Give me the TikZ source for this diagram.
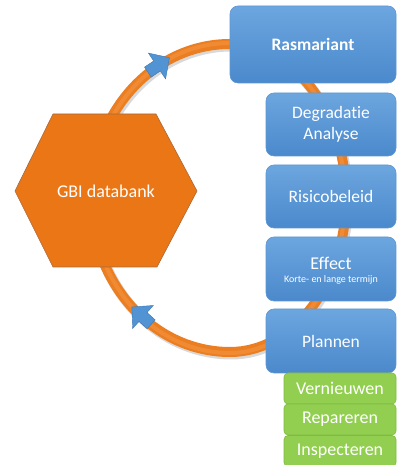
\documentclass[tikz,border=0pt]{standalone}
\usepackage{fontspec}
\setmainfont{Carlito}[Ligatures=NoCommon]
\definecolor{ringorange}{HTML}{EC7E22}
\definecolor{ringlight}{HTML}{F59A48}
\definecolor{hexorange}{HTML}{EA7615}
\definecolor{hexedge}{HTML}{A56A3E}
\definecolor{blueTop}{HTML}{6DA6DF}
\definecolor{blueBot}{HTML}{4A89CC}
\definecolor{blueEdge}{HTML}{5E97D3}
\definecolor{arrowblue}{HTML}{5193D3}
\definecolor{arrowedge}{HTML}{3F78B5}
\definecolor{greenFill}{HTML}{92CF50}
\definecolor{greenEdge}{HTML}{7EBB3F}
\tikzset{
  bluebox/.style={rounded corners=8pt, top color=blueTop, bottom color=blueBot,
    draw=blueEdge, line width=0.6pt, text=white, align=center, inner sep=0pt,
    font=\fontsize{17.5}{21}\selectfont},
  greenbox/.style={rounded corners=4pt, fill=greenFill, draw=greenEdge, line width=0.6pt,
    text=white, inner sep=0pt, minimum width=112pt, minimum height=31pt,
    font=\fontsize{18}{21}\selectfont},
  blockarrow/.style={fill=arrowblue, draw=arrowedge, line width=0.4pt},
}
\begin{document}
\begin{tikzpicture}[x=1pt,y=1pt]
\useasboundingbox (0,0) rectangle (403,465);
\begin{scope}
\clip (0,0) rectangle (403,465);
% ring shadow
\draw[black, opacity=0.15, line width=11pt]
  ([shift={(1.5,-2)}]230,421) arc[start angle=90, end angle=-90, x radius=116, y radius=154]
  arc[start angle=270, end angle=90, x radius=139, y radius=154];
% ring
\draw[ringorange, line width=10pt]
  (230,421) arc[start angle=90, end angle=-90, x radius=116, y radius=154]
  arc[start angle=270, end angle=90, x radius=139, y radius=154];
\draw[ringlight, line width=4pt, opacity=0.45]
  (230,422) arc[start angle=90, end angle=-90, x radius=115, y radius=155]
  arc[start angle=270, end angle=90, x radius=138, y radius=155];
% block arrows on ring
\begin{scope}[shift={(157,399)}, rotate=33.6]
  \draw[blockarrow] (-11,-6) -- (0,-6) -- (0,-15.5) -- (15,0) -- (0,15.5) -- (0,6) -- (-11,6) -- cycle;
\end{scope}
\begin{scope}[shift={(143,148)}, rotate=138]
  \draw[blockarrow] (-11,-6) -- (0,-6) -- (0,-15.5) -- (15,0) -- (0,15.5) -- (0,6) -- (-11,6) -- cycle;
\end{scope}
% hexagon
\draw[fill=hexorange, draw=hexedge, line width=0.6pt]
  (15,274) -- (53,351) -- (156,351) -- (197,274) -- (157,198) -- (53,198) -- cycle;
\node[text=white, font=\fontsize{18}{21}\selectfont] (gbi) at (106,274) {GBI databank};
% blue boxes
\node[bluebox, minimum width=166pt, minimum height=77pt, font=\fontsize{17.5}{21}\selectfont\bfseries] (ras) at (313,420.5) {Rasmariant};
\node[bluebox, minimum width=130pt, minimum height=63pt] (deg) at (331,340.5) {Degradatie\\Analyse};
\node[bluebox, minimum width=130pt, minimum height=63pt] (ris) at (331,268.5) {Risicobeleid};
\node[bluebox, minimum width=130pt, minimum height=64pt] (eff) at (331,196) {};
\node[text=white, font=\fontsize{18}{21}\selectfont] (effa) at (331,202) {Effect};
\node[text=white, font=\fontsize{10}{12}\selectfont] (effb) at (331,185) {Korte- en lange termijn};
\node[bluebox, minimum width=130pt, minimum height=64pt] (pla) at (331,124) {Plannen};
% green boxes
\node[greenbox] (ver) at (340,76.5) {Vernieuwen};
\node[greenbox] (rep) at (340,45.5) {Repareren};
\node[greenbox] (ins) at (340,14) {Inspecteren};
\end{scope}
\end{tikzpicture}
\end{document}
